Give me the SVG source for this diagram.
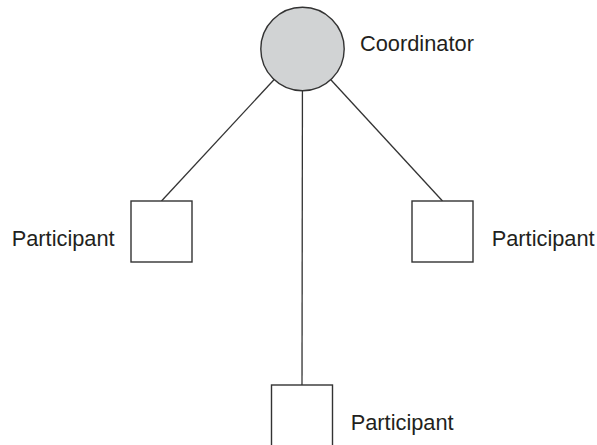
<svg xmlns="http://www.w3.org/2000/svg" width="597" height="445" viewBox="0 0 597 445">
<style>
.edge{stroke:#333;stroke-width:1.3;fill:none}
.box{fill:#fff;stroke:#333;stroke-width:1.4}
.lbl{font-family:"Liberation Sans",Arial,sans-serif;font-size:21.8px;fill:#231f20}
</style>
<rect width="597" height="445" fill="#fff"/>
<g id="connectors">
<line class="edge" x1="302.5" y1="49" x2="161.5" y2="201"/>
<line class="edge" x1="302.5" y1="49" x2="302" y2="385"/>
<line class="edge" x1="302.5" y1="49" x2="442.5" y2="201"/>
</g>
<g id="coordinator">
<circle cx="302.5" cy="49" r="41.7" fill="#d1d3d4" stroke="#333" stroke-width="1.4"/>
<text class="lbl" x="360" y="51">Coordinator</text>
</g>
<g id="participant-left">
<rect class="box" x="131" y="201" width="61" height="61"/>
<text class="lbl" x="11.7" y="246">Participant</text>
</g>
<g id="participant-right">
<rect class="box" x="412" y="201" width="61" height="61"/>
<text class="lbl" x="491.7" y="246">Participant</text>
</g>
<g id="participant-bottom">
<rect class="box" x="271.5" y="385" width="61" height="70"/>
<text class="lbl" x="350.7" y="430">Participant</text>
</g>
</svg>
